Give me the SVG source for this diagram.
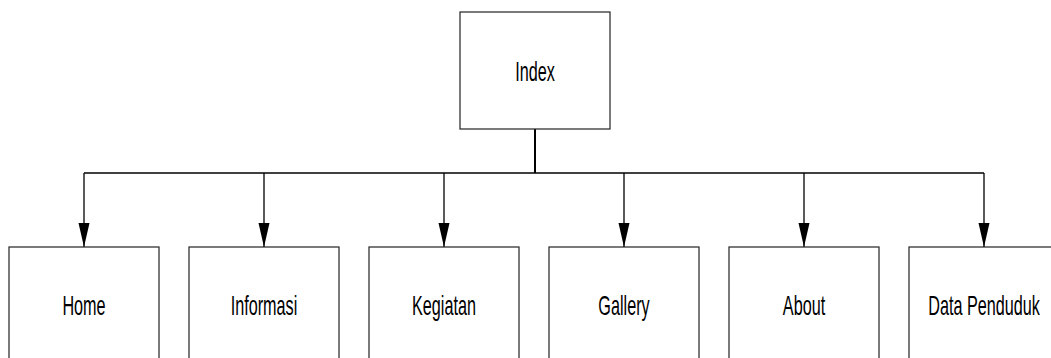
<svg xmlns="http://www.w3.org/2000/svg" width="1051" height="358" viewBox="0 0 1051 358">
  <style>
    .box { fill: #ffffff; stroke: #222222; stroke-width: 1.2; }
    .lbl { font-family: "Liberation Sans", Arial, sans-serif; font-size: 27px; fill: #000000; text-anchor: middle; }
    .conn { stroke: #000000; stroke-width: 1.3; fill: none; }
  </style>
  <defs>
    <marker id="arr" markerUnits="userSpaceOnUse" markerWidth="24" markerHeight="12" viewBox="0 0 24 12" refX="24" refY="6" orient="auto">
      <path d="M0,0.5 L24,6 L0,11.5 Z" fill="#000000"/>
    </marker>
  </defs>
  <rect width="1051" height="358" fill="#ffffff"/>
  <g id="connectors">
    <line class="conn" x1="535" y1="129" x2="535" y2="173" style="stroke-width:2"/>
    <line class="conn" x1="84" y1="173" x2="984" y2="173"/>
    <line class="conn" x1="84" y1="173" x2="84" y2="247" marker-end="url(#arr)"/>
    <line class="conn" x1="264" y1="173" x2="264" y2="247" marker-end="url(#arr)"/>
    <line class="conn" x1="444" y1="173" x2="444" y2="247" marker-end="url(#arr)"/>
    <line class="conn" x1="624" y1="173" x2="624" y2="247" marker-end="url(#arr)"/>
    <line class="conn" x1="804" y1="173" x2="804" y2="247" marker-end="url(#arr)"/>
    <line class="conn" x1="984" y1="173" x2="984" y2="247" marker-end="url(#arr)"/>
  </g>
  <g id="node-index">
    <rect class="box" x="460" y="12" width="150" height="117"/>
    <text class="lbl" transform="translate(535,80.5) scale(0.6,1)">Index</text>
  </g>
  <g id="node-home">
    <rect class="box" x="9" y="247" width="150" height="150"/>
    <text class="lbl" transform="translate(84,315) scale(0.6,1)">Home</text>
  </g>
  <g id="node-informasi">
    <rect class="box" x="189" y="247" width="150" height="150"/>
    <text class="lbl" transform="translate(264,315) scale(0.6,1)">Informasi</text>
  </g>
  <g id="node-kegiatan">
    <rect class="box" x="369" y="247" width="150" height="150"/>
    <text class="lbl" transform="translate(444,315) scale(0.6,1)">Kegiatan</text>
  </g>
  <g id="node-gallery">
    <rect class="box" x="549" y="247" width="150" height="150"/>
    <text class="lbl" transform="translate(624,315) scale(0.6,1)">Gallery</text>
  </g>
  <g id="node-about">
    <rect class="box" x="729" y="247" width="150" height="150"/>
    <text class="lbl" transform="translate(804,315) scale(0.6,1)">About</text>
  </g>
  <g id="node-data-penduduk">
    <rect class="box" x="909" y="247" width="150" height="150"/>
    <text class="lbl" transform="translate(984,315) scale(0.6,1)">Data Penduduk</text>
  </g>
</svg>
